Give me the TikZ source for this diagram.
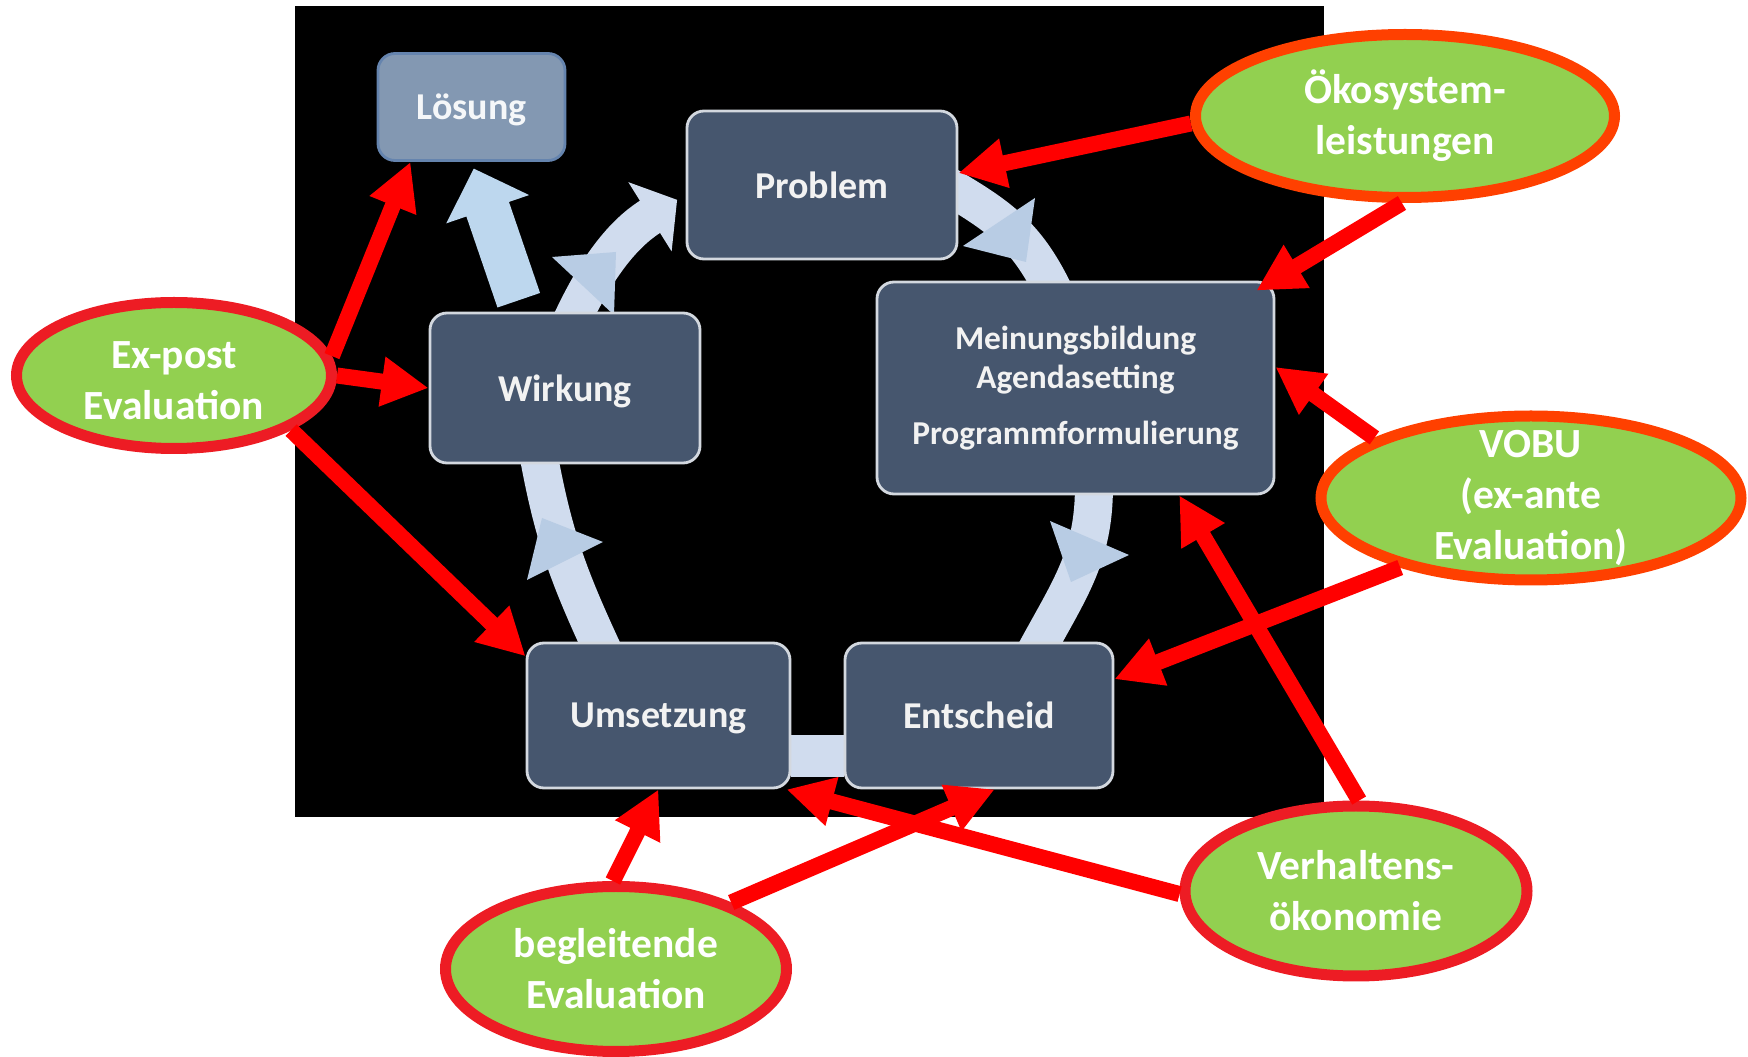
\documentclass[tikz,border=0pt]{standalone}
\usepackage{fontspec}
\setmainfont{Carlito}
\usepackage{tikz}
\usetikzlibrary{arrows.meta, shapes.geometric, backgrounds}
\definecolor{boxblau}{HTML}{46566E}
\definecolor{boxrand}{HTML}{D3D8DF}
\definecolor{loesfill}{HTML}{8398B2}
\definecolor{loesrand}{HTML}{6584AE}
\definecolor{kreisblau}{HTML}{D0DCEE}
\definecolor{spitzeblau}{HTML}{B8CCE4}
\definecolor{pfeilblau}{HTML}{BDD7EE}
\definecolor{gruen}{HTML}{92D050}
\definecolor{rahmenrot}{HTML}{ED1C24}
\definecolor{rahmenorange}{HTML}{FF4000}
\definecolor{pfeilrot}{HTML}{FF0000}
\tikzset{
  phase/.style={rectangle, rounded corners=0.17cm, fill=boxblau, draw=boxrand, line width=0.8pt,
    text=white!95!black, font=\bfseries\fontsize{10.8}{13}\selectfont, align=center, inner sep=0pt},
  einzeilig/.style={text depth=0pt},
  bewertung/.style={ellipse, fill=gruen, draw=#1, line width=1.1mm, inner sep=0pt},
  etikett/.style={text=white, align=center, font=\bfseries\fontsize{11.8}{14.5}\selectfont},
  kreis/.style={draw=kreisblau, line width=0.38cm},
  rot/.style={draw=pfeilrot, line width=0.16cm, -{Triangle[width=0.47cm,length=0.47cm]}}
}

\begin{document}
\begin{tikzpicture}
		\useasboundingbox (0,0) rectangle (17.48,-10.57);
		% Phasen des Politikzyklus
		\node [phase, einzeilig, fill=loesfill, draw=loesrand, text=white!92!loesfill, minimum width=1.87cm, minimum height=1.07cm] (loes) at (4.715,-1.07) {Lösung};
		\node [phase, einzeilig, minimum width=2.70cm, minimum height=1.48cm] (prob) at (8.22,-1.85) {Problem};
		\node [phase, minimum width=3.97cm, minimum height=2.12cm, font=\bfseries\fontsize{9.5}{11.1}\selectfont] (mein) at (10.755,-3.88) {Meinungsbildung\\Agendasetting\\[5pt]Programmformulierung};
		\node [phase, einzeilig, minimum width=2.70cm, minimum height=1.50cm] (wirk) at (5.65,-3.88) {Wirkung};
		\node [phase, einzeilig, minimum width=2.63cm, minimum height=1.45cm] (umse) at (6.585,-7.155) {Umsetzung};
		\node [phase, einzeilig, minimum width=2.68cm, minimum height=1.45cm] (ents) at (9.79,-7.155) {Entscheid};

		\begin{scope}[on background layer]
		\fill (2.95,-0.06) rectangle (13.24,-8.17);
		\draw [kreis, shorten <=-2mm, shorten >=-2mm] (prob.-3) to[out=-30,in=115] (mein.104);
		\draw [kreis, shorten <=-2mm, shorten >=-2mm] (mein.-80) to[out=-88,in=62] (ents.50);
		\draw [kreis, line width=0.42cm] ([yshift=-4.1mm]ents.west) -- ([yshift=-4.1mm]umse.east);
		\draw [kreis, shorten <=-2mm, shorten >=-2mm] (umse.129) to[out=115,in=-80] (wirk.-108);
		\draw [kreis, shorten <=-2mm, shorten >=1mm, -{Triangle[width=0.8cm,length=0.32cm]}] (wirk.82) to[out=66,in=-148] (prob.184);
		\fill [spitzeblau] (10.35,-1.98) -- (9.63,-2.46) -- (10.26,-2.62) -- cycle;
		\fill [spitzeblau] (5.52,-2.57) -- (6.16,-2.52) -- (6.14,-3.15) -- cycle;
		\fill [spitzeblau] (5.42,-5.18) -- (6.03,-5.42) -- (5.27,-5.80) -- cycle;
		\fill [spitzeblau] (10.50,-5.21) -- (11.29,-5.55) -- (10.71,-5.82) -- cycle;
		\draw [draw=pfeilblau, line width=0.45cm, -{Triangle[width=0.85cm,length=0.43cm]}, shorten <=1.2mm, shorten >=0.7mm] (wirk.119) -- (loes.south);
		\end{scope}

		% Evaluationen
		\node [bewertung=rahmenorange, minimum width=4.19cm, minimum height=1.63cm, label={[etikett]center:Ökosystem-\\leistungen}] (oeko) at (14.05,-1.16) {};
		\node [bewertung=rahmenorange, minimum width=4.20cm, minimum height=1.64cm, label={[etikett]center:VOBU\\(ex-ante\\Evaluation)}] (vobu) at (15.31,-4.98) {};
		\node [bewertung=rahmenrot, minimum width=3.15cm, minimum height=1.46cm, label={[etikett, yshift=-0.5mm]center:Ex-post\\Evaluation}] (expost) at (1.74,-3.755) {};
		\node [bewertung=rahmenrot, minimum width=3.41cm, minimum height=1.65cm, label={[etikett]center:begleitende\\Evaluation}] (begl) at (6.16,-9.69) {};
		\node [bewertung=rahmenrot, minimum width=3.42cm, minimum height=1.70cm, label={[etikett]center:Verhaltens-\\ökonomie}] (ver) at (13.56,-8.91) {};

		\draw [rot] (expost.7) -- (loes.-138);
		\draw [rot] (expost.0) -- (wirk.west);
		\draw [rot] (expost.-25) -- (umse.156);
		\draw [rot] (oeko.182) -- (prob.5);
		\draw [rot] (oeko.-92) -- ([shift={(-0.19,-0.1)}]mein.north east);
		\draw [rot] (vobu.159) -- (mein.6);
		\draw [rot] (vobu.208) -- (ents.15);
		\draw [rot] (ver.88) -- (mein.-46);
		\draw [rot] (ver.181) -- (umse.-30);
		\draw [rot] (begl.92) -- (umse.south);
		\draw [rot] (begl.30) -- (ents.-78);
\end{tikzpicture}
\end{document}
